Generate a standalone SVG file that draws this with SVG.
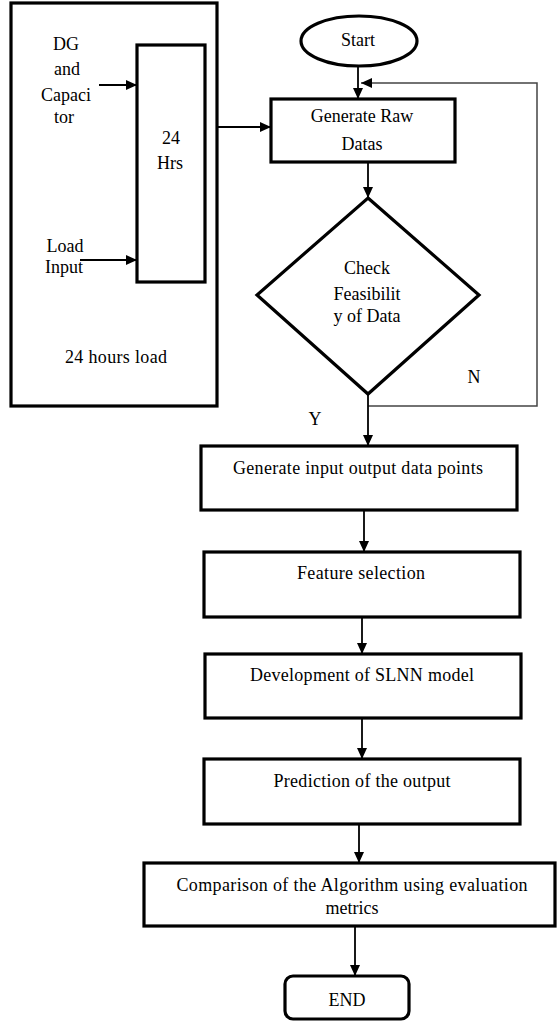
<svg xmlns="http://www.w3.org/2000/svg" width="557" height="1022" viewBox="0 0 557 1022">
<defs>
<marker id="ah" markerWidth="11" markerHeight="10" refX="11" refY="5" orient="auto" markerUnits="userSpaceOnUse">
<path d="M0,0 L11,5 L0,10 z" fill="#000"/>
</marker>
<style>
.box{fill:#fff;stroke:#000;stroke-width:3.2}
.ln{fill:none;stroke:#000;stroke-width:1.8}
.lp{fill:none;stroke:#444;stroke-width:1.5}
text{font-family:"Liberation Serif","Times New Roman",serif;font-size:18px;fill:#000;text-anchor:middle}
</style>
</defs>
<rect width="557" height="1022" fill="#fff"/>
<g id="load-panel">
<rect class="box" x="11" y="3" width="206" height="403"/>
<text x="116" y="363" textLength="102" lengthAdjust="spacing">24 hours load</text>
</g>
<g id="dg-label">
<text x="66" y="50">DG</text>
<text x="67" y="75">and</text>
<text x="66" y="101">Capaci</text>
<text x="64" y="123">tor</text>
</g>
<g id="load-label">
<text x="65" y="252">Load</text>
<text x="64" y="273">Input</text>
</g>
<g id="hrs24">
<rect class="box" x="137" y="45" width="68" height="237"/>
<text x="171" y="144">24</text>
<text x="170" y="169">Hrs</text>
</g>
<g id="start">
<ellipse class="box" cx="359" cy="41" rx="58" ry="25"/>
<text x="358" y="46">Start</text>
</g>
<g id="raw">
<rect class="box" x="271" y="99" width="184" height="63"/>
<text x="362" y="122">Generate Raw</text>
<text x="362" y="150">Datas</text>
</g>
<g id="check">
<polygon class="box" points="368,198 479,295 368,394 257,295"/>
<text x="367" y="274">Check</text>
<text x="367" y="300">Feasibilit</text>
<text x="367" y="322">y of Data</text>
</g>
<g id="labels">
<text x="474" y="383">N</text>
<text x="315" y="425">Y</text>
</g>
<g id="gen-io">
<rect class="box" x="201" y="446" width="316" height="64"/>
<text x="358" y="474" textLength="250" lengthAdjust="spacing">Generate input output data points</text>
</g>
<g id="feature">
<rect class="box" x="204" y="552" width="316" height="65"/>
<text x="361" y="579" textLength="128" lengthAdjust="spacing">Feature selection</text>
</g>
<g id="slnn">
<rect class="box" x="205" y="654" width="316" height="64"/>
<text x="362" y="681" textLength="224" lengthAdjust="spacing">Development of SLNN model</text>
</g>
<g id="predict">
<rect class="box" x="204" y="759" width="316" height="65"/>
<text x="362" y="787" textLength="177" lengthAdjust="spacing">Prediction of the output</text>
</g>
<g id="compare">
<rect class="box" x="144" y="863" width="411" height="63"/>
<text x="352" y="891" textLength="351" lengthAdjust="spacing">Comparison of the Algorithm using evaluation</text>
<text x="352" y="914">metrics</text>
</g>
<g id="end">
<rect class="box" x="285" y="976" width="124" height="43" rx="8"/>
<text x="347" y="1006">END</text>
</g>
<g id="connectors">
<line class="ln" x1="99" y1="85" x2="137" y2="85" marker-end="url(#ah)"/>
<line class="ln" x1="80" y1="260" x2="137" y2="260" marker-end="url(#ah)"/>
<line class="ln" x1="218" y1="127" x2="271" y2="127" marker-end="url(#ah)"/>
<line class="ln" x1="358" y1="67" x2="358" y2="99" marker-end="url(#ah)"/>
<line class="ln" x1="368" y1="162" x2="368" y2="198" marker-end="url(#ah)"/>
<polyline class="lp" points="368,406 537,406 537,83 361,83" marker-end="url(#ah)"/>
<line class="ln" x1="368" y1="394" x2="368" y2="446" marker-end="url(#ah)"/>
<line class="ln" x1="364" y1="510" x2="364" y2="552" marker-end="url(#ah)"/>
<line class="ln" x1="362" y1="617" x2="362" y2="654" marker-end="url(#ah)"/>
<line class="ln" x1="362" y1="718" x2="362" y2="759" marker-end="url(#ah)"/>
<line class="ln" x1="359" y1="824" x2="359" y2="863" marker-end="url(#ah)"/>
<line class="ln" x1="355" y1="926" x2="355" y2="976" marker-end="url(#ah)"/>
</g>
</svg>
